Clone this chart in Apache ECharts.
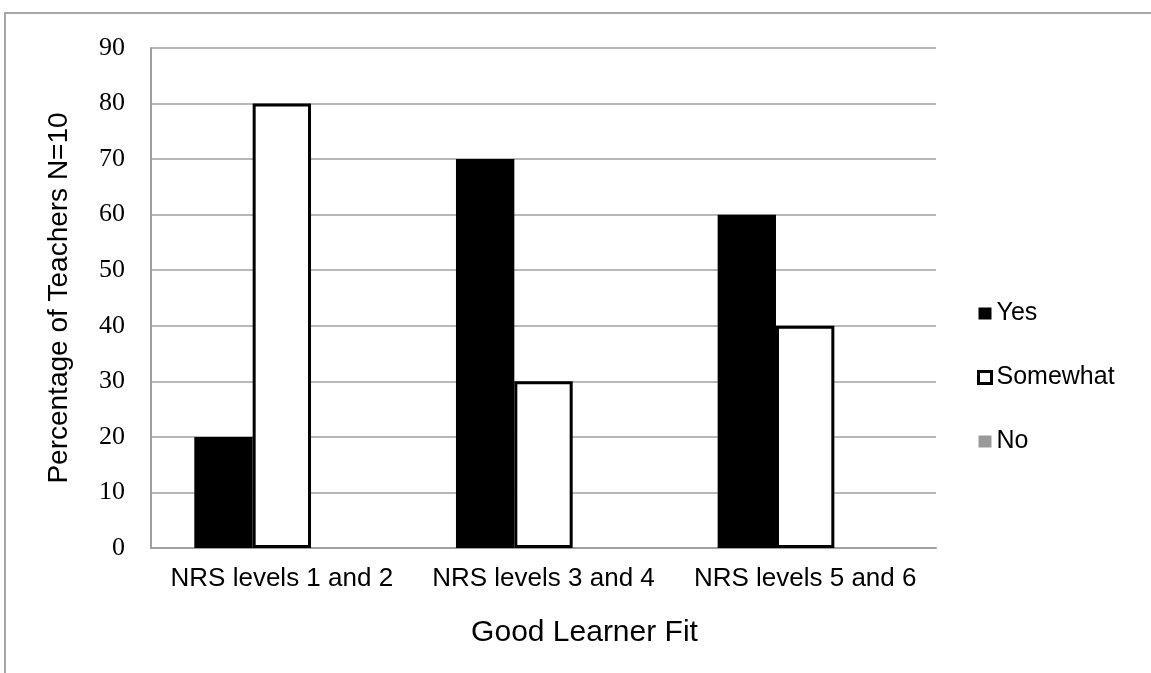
<!DOCTYPE html>
<html>
<head>
<meta charset="utf-8">
<script src="https://cdn.jsdelivr.net/npm/echarts@6/dist/echarts.min.js"></script>
<style>
  html, body { margin: 0; padding: 0; background: #fff; }
  #chart { width: 1151px; height: 673px; }
</style>
</head>
<body>
<div id="chart"></div>
<script>
// Share of teachers (N=10) rating each NRS level band as a good learner fit
const categories = ['NRS levels 1 and 2', 'NRS levels 3 and 4', 'NRS levels 5 and 6'];
const yesValues = [20, 70, 60];
const somewhatValues = [80, 30, 40];
const noValues = [0, 0, 0];
const yTicks = { min: 0, max: 90, interval: 10 };

const chart = echarts.init(document.getElementById('chart'));

const sans = '"Liberation Sans", Arial, sans-serif';
const serif = '"Liberation Serif", "DejaVu Serif", serif';

chart.setOption({
  animation: false,
  backgroundColor: '#ffffff',
  graphic: [{
    type: 'rect',
    silent: true,
    shape: { x: 5, y: 13, width: 1200, height: 700 },
    style: { fill: 'none', stroke: '#a8a8a8', lineWidth: 2 }
  }],
  grid: { left: 151, right: 215, top: 48, bottom: 125 },
  legend: {
    orient: 'vertical',
    left: 972,
    top: 296,
    itemWidth: 13,
    itemHeight: 12,
    itemGap: 39,
    icon: 'rect',
    textStyle: { fontFamily: sans, fontSize: 25, color: '#000' },
    data: [
      { name: 'Yes', itemStyle: { color: '#000', borderWidth: 0 } },
      { name: 'Somewhat', itemStyle: { color: '#fff', borderColor: '#000', borderWidth: 3 } },
      { name: 'No', itemStyle: { color: '#999', borderWidth: 0 } }
    ]
  },
  xAxis: {
    type: 'category',
    data: categories,
    name: 'Good Learner Fit',
    nameLocation: 'middle',
    nameGap: 70,
    nameTextStyle: { fontFamily: sans, fontSize: 30, color: '#000', padding: [0, 0, 0, 82] },
    axisLine: { lineStyle: { color: '#a0a0a0', width: 2 } },
    axisTick: { show: false },
    axisLabel: { interval: 0, hideOverlap: false, fontFamily: sans, fontSize: 26, color: '#000', margin: 18 }
  },
  yAxis: {
    type: 'value',
    min: yTicks.min,
    max: yTicks.max,
    interval: yTicks.interval,
    name: 'Percentage of Teachers N=10',
    nameLocation: 'middle',
    nameGap: 78,
    nameTextStyle: { fontFamily: sans, fontSize: 28, color: '#000' },
    axisLine: { show: true, lineStyle: { color: '#a0a0a0', width: 2 } },
    axisTick: { show: false },
    axisLabel: { fontFamily: serif, fontSize: 26, color: '#000', margin: 26 },
    splitLine: { lineStyle: { color: '#a0a0a0', width: 1.5 } }
  },
  series: [
    {
      name: 'Yes', type: 'bar', data: yesValues,
      barWidth: '22.3%', barGap: '0%',
      itemStyle: { color: '#000' }
    },
    {
      name: 'Somewhat', type: 'bar', data: somewhatValues,
      barWidth: '22.3%', barGap: '0%',
      itemStyle: { color: '#fff', borderColor: '#000', borderWidth: 3 }
    },
    {
      name: 'No', type: 'bar', data: noValues,
      barWidth: '22.3%', barGap: '0%',
      itemStyle: { color: '#999' }
    }
  ]
});
</script>
</body>
</html>
